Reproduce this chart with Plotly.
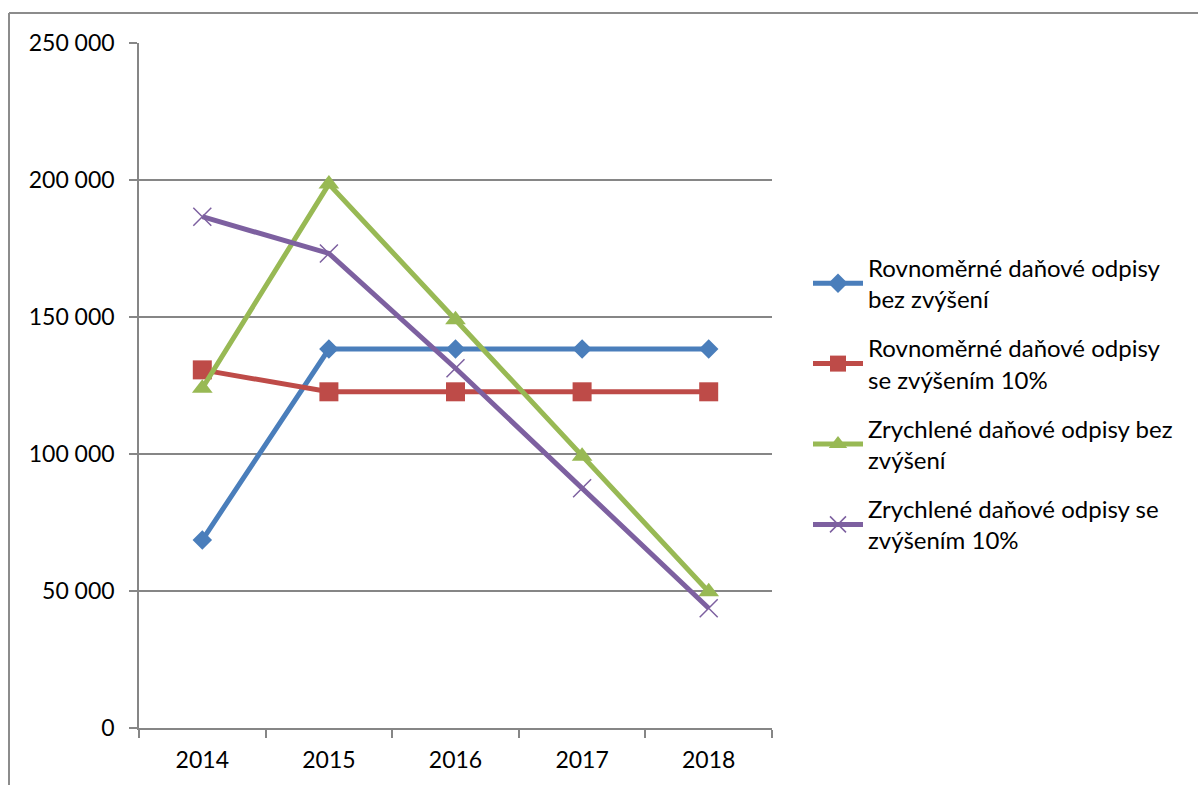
import plotly.graph_objects as go

years = ["2014", "2015", "2016", "2017", "2018"]
names = [
    "Rovnoměrné daňové odpisy<br>bez zvýšení",
    "Rovnoměrné daňové odpisy<br>se zvýšením 10%",
    "Zrychlené daňové odpisy bez<br>zvýšení",
    "Zrychlené daňové odpisy se<br>zvýšením 10%",
]
rovnomerne_bez = [68600, 138300, 138300, 138300, 138300]
rovnomerne_se = [130700, 122700, 122700, 122700, 122700]
zrychlene_bez = [124000, 198500, 149000, 99200, 49700]
zrychlene_se = [186600, 173200, 131300, 87500, 43700]
y_ticks = [0, 50000, 100000, 150000, 200000, 250000]
y_tick_text = ["0", "50 000", "100 000", "150 000", "200 000", "250 000"]

series = [rovnomerne_bez, rovnomerne_se, zrychlene_bez, zrychlene_se]
colors = ["#4A7EBB", "#BE4B48", "#98B954", "#7D60A0"]
symbols = ["diamond", "square", "triangle-up", "x-thin"]
sizes = [15, 19, 18, 18]

FONT = "Lato, 'Open Sans', sans-serif"

fig = go.Figure()
for i, (vals, nm, c, s, sz) in enumerate(zip(series, names, colors, symbols, sizes)):
    marker = dict(symbol=s, size=sz, color=c)
    if s == "x-thin":
        marker["line"] = dict(color=c, width=1.5)
    fig.add_trace(go.Scatter(
        x=years, y=vals, name=nm, mode="lines+markers",
        line=dict(color=c, width=5), marker=marker,
        legendgroup=f"g{i}",
    ))

L, R, T, B = 139, 772, 43, 728
W, H = 1198, 785
pw, ph = R - L, B - T

def px(x):
    return (x - L) / pw

def py(y):
    return (B - y) / ph

fig.update_layout(
    width=W, height=H,
    margin=dict(l=L, r=W - R, t=T, b=H - B, pad=0),
    paper_bgcolor="white", plot_bgcolor="white",
    font=dict(family=FONT, size=23, color="black"),
    showlegend=True,
    legend=dict(
        x=px(808), xanchor="left", y=py(404), yanchor="middle",
        font=dict(family=FONT, size=24, color="black"),
        tracegroupgap=15, itemwidth=50, bgcolor="rgba(0,0,0,0)",
    ),
    xaxis=dict(
        type="category", range=[-0.5, 4.5], tickson="boundaries",
        showgrid=False, showline=True, linecolor="#868686", linewidth=1.5,
        ticks="outside", ticklen=8, tickcolor="#868686", tickwidth=1.5,
        tickfont=dict(family=FONT, size=23), fixedrange=True,
        ticklabelstandoff=11,
    ),
    yaxis=dict(
        range=[0, 250000], tickvals=y_ticks, ticktext=y_tick_text,
        showgrid=True, gridcolor="#868686", gridwidth=1.5,
        showline=True, linecolor="#868686", linewidth=1.5,
        ticks="outside", ticklen=8, tickcolor="#868686", tickwidth=1.5,
        zeroline=False, tickfont=dict(family=FONT, size=23),
        ticklabelstandoff=10,
    ),
    shapes=[
        dict(type="line", xref="paper", yref="paper",
             x0=px(9), x1=px(1210), y0=py(13), y1=py(13),
             line=dict(color="#8C8C8C", width=2)),
        dict(type="line", xref="paper", yref="paper",
             x0=px(9), x1=px(9), y0=py(13), y1=py(800),
             line=dict(color="#8C8C8C", width=2)),
    ],
)

fig.write_html("out.html")
